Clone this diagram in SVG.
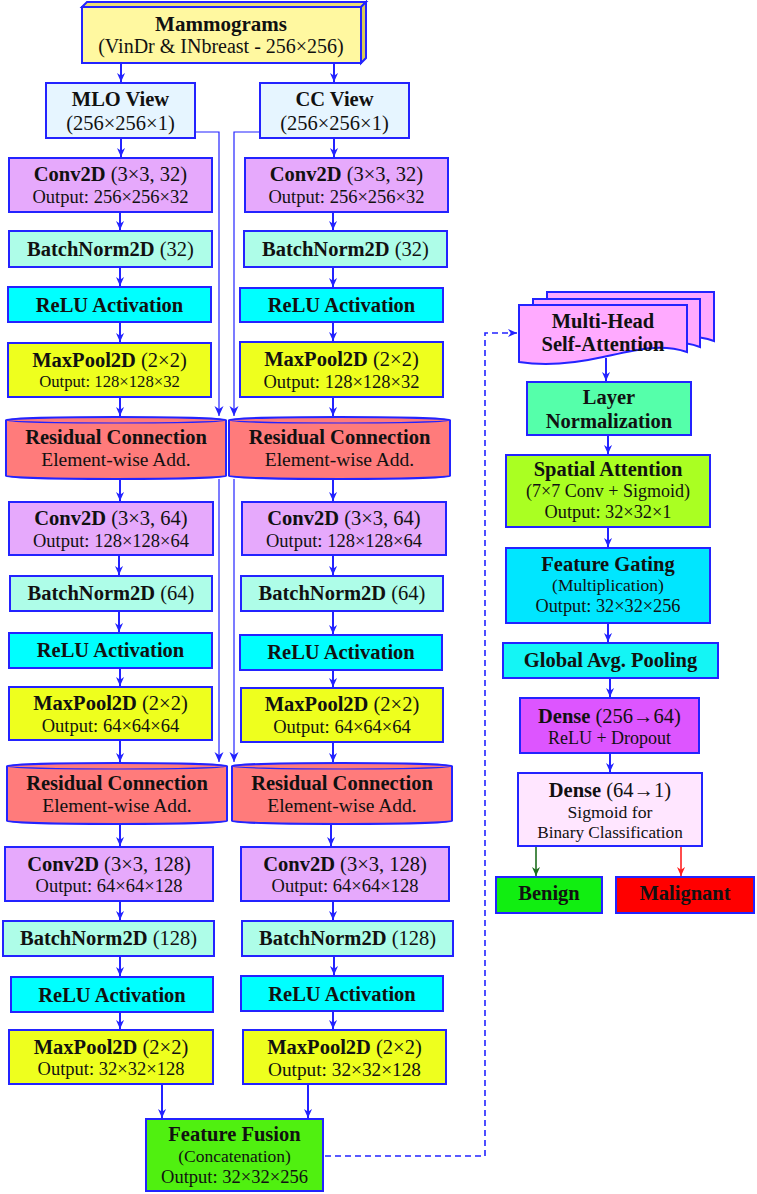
<svg xmlns="http://www.w3.org/2000/svg" width="757" height="1194" viewBox="0 0 757 1194">
<style>
text{font-family:"Liberation Serif","Times New Roman",serif;fill:#111;text-anchor:middle}
.t{font-size:20.5px;font-weight:bold}
.m{font-size:20.5px}
.b{font-weight:bold}
.bx{stroke:#2323ff;stroke-width:2}
.mam{fill:#fff8a0}.view{fill:#e6f5ff}.conv{fill:#e6a9fc}.bn{fill:#aefde8}.relu{fill:#00ffff}.mp{fill:#eeff1e}.res{fill:#ff7b7b}
.fus{fill:#50f010}.mh{fill:#ffaaff}.ln{fill:#55ffaa}.sa{fill:#aaff22}.fg{fill:#00e6ff}.gap{fill:#14f5f5}.d1{fill:#dd55ff}.d2{fill:#ffe6ff}.ben{fill:#11ee11}.mal{fill:#ff0000}
.c{fill:none;stroke:#2323ff;stroke-width:2}
.s{fill:none;stroke:#2323ff;stroke-width:1.2}
.d{fill:none;stroke:#2323ff;stroke-width:1.6;stroke-dasharray:6 4}
</style>
<defs>
<marker id="a" viewBox="0 0 10 10" refX="10" refY="5" markerWidth="9" markerHeight="9" markerUnits="userSpaceOnUse" orient="auto"><path d="M0,0.5 L10,5 L0,9.5 L3,5 z" fill="#2323ff"/></marker>
<marker id="as" viewBox="0 0 10 10" refX="10" refY="5" markerWidth="10" markerHeight="10" markerUnits="userSpaceOnUse" orient="auto"><path d="M0,0.5 L10,5 L0,9.5 L3,5 z" fill="#2323ff"/></marker>
<marker id="ag" viewBox="0 0 10 10" refX="10" refY="5" markerWidth="9" markerHeight="9" markerUnits="userSpaceOnUse" orient="auto"><path d="M0,0.5 L10,5 L0,9.5 L3,5 z" fill="#1e6e1e"/></marker>
<marker id="ar" viewBox="0 0 10 10" refX="10" refY="5" markerWidth="9" markerHeight="9" markerUnits="userSpaceOnUse" orient="auto"><path d="M0,0.5 L10,5 L0,9.5 L3,5 z" fill="#ff2020"/></marker>
</defs>

<g id="connectors">
<path class="c" marker-end="url(#a)" d="M121,63 V82"/>
<path class="c" marker-end="url(#a)" d="M334,63 V82"/>
<path class="c" marker-end="url(#a)" d="M121,138 V157"/>
<path class="c" marker-end="url(#a)" d="M334,138 V157"/>
<path class="c" marker-end="url(#a)" d="M120,212 V230"/>
<path class="c" marker-end="url(#a)" d="M120,267 V286"/>
<path class="c" marker-end="url(#a)" d="M120,322 V342"/>
<path class="c" marker-end="url(#a)" d="M120,397 V416"/>
<path class="c" marker-end="url(#a)" d="M120,479 V501"/>
<path class="c" marker-end="url(#a)" d="M119,555 V575"/>
<path class="c" marker-end="url(#a)" d="M119,611 V632"/>
<path class="c" marker-end="url(#a)" d="M120,668 V686"/>
<path class="c" marker-end="url(#a)" d="M120,740 V762"/>
<path class="c" marker-end="url(#a)" d="M120,824 V846"/>
<path class="c" marker-end="url(#a)" d="M120,901 V920"/>
<path class="c" marker-end="url(#a)" d="M120,956 V976"/>
<path class="c" marker-end="url(#a)" d="M120,1012 V1029"/>
<path class="c" marker-end="url(#a)" d="M333,212 V230"/>
<path class="c" marker-end="url(#a)" d="M333,267 V287"/>
<path class="c" marker-end="url(#a)" d="M333,322 V341"/>
<path class="c" marker-end="url(#a)" d="M333,397 V416"/>
<path class="c" marker-end="url(#a)" d="M333,479 V501"/>
<path class="c" marker-end="url(#a)" d="M333,555 V575"/>
<path class="c" marker-end="url(#a)" d="M333,611 V634"/>
<path class="c" marker-end="url(#a)" d="M333,670 V687"/>
<path class="c" marker-end="url(#a)" d="M333,742 V762"/>
<path class="c" marker-end="url(#a)" d="M331,824 V846"/>
<path class="c" marker-end="url(#a)" d="M333,901 V920"/>
<path class="c" marker-end="url(#a)" d="M334,956 V975"/>
<path class="c" marker-end="url(#a)" d="M333,1011 V1029"/>
<path class="c" marker-end="url(#a)" d="M162,1084 V1118"/>
<path class="c" marker-end="url(#a)" d="M308,1084 V1118"/>
<path class="s" marker-end="url(#as)" d="M195,132 H219 V416"/>
<path class="s" marker-end="url(#as)" d="M260,132 H234 V416"/>
<path class="s" marker-end="url(#as)" d="M219,479 V762"/>
<path class="s" marker-end="url(#as)" d="M234,479 V762"/>
<path class="d" marker-end="url(#a)" d="M325,1156 H485 V333 H517"/>
<path class="c" marker-end="url(#a)" d="M606,358 V381"/>
<path class="c" marker-end="url(#a)" d="M608,435 V454"/>
<path class="c" marker-end="url(#a)" d="M608,527 V547"/>
<path class="c" marker-end="url(#a)" d="M608,623 V642"/>
<path class="c" marker-end="url(#a)" d="M610,678 V697"/>
<path class="c" marker-end="url(#a)" d="M610,753 V772"/>
<path fill="none" stroke="#1e6e1e" stroke-width="1.6" marker-end="url(#ag)" d="M536,846 V876"/>
<path fill="none" stroke="#ff2020" stroke-width="1.6" marker-end="url(#ar)" d="M681,846 V876"/>
</g>

<g id="mammograms">
<path class="bx" fill="#e9dc70" d="M82,7 L87,2 H366 L361,7 Z"/>
<path class="bx" fill="#d9cc55" d="M361,7 L366,2 V58 L361,63 Z"/>
<rect class="bx mam" x="82" y="7" width="279" height="56"/>
<text x="221" y="30.5" class="t" style="font-size:21px">Mammograms</text>
<text x="221" y="53" style="font-size:20px">(VinDr &amp; INbreast - 256×256)</text>
</g>

<g id="mlo-view"><rect class="bx view" x="46" y="83" width="149" height="55"/>
<text x="120.5" y="106" class="t">MLO View</text><text x="120.5" y="129.5" class="m">(256×256×1)</text></g>
<g id="cc-view"><rect class="bx view" x="260" y="83" width="149" height="55"/>
<text x="334.5" y="106" class="t">CC View</text><text x="334.5" y="129.5" class="m">(256×256×1)</text></g>

<g id="conv1-l"><rect class="bx conv" x="9" y="158" width="203" height="54"/>
<text x="110.5" y="181" class="m"><tspan class="b">Conv2D</tspan> (3×3, 32)</text><text x="110.5" y="202.5" style="font-size:18.5px">Output: 256×256×32</text></g>
<g id="conv1-r"><rect class="bx conv" x="245" y="158" width="203" height="54"/>
<text x="346.5" y="181" class="m"><tspan class="b">Conv2D</tspan> (3×3, 32)</text><text x="346.5" y="202.5" style="font-size:18.5px">Output: 256×256×32</text></g>

<g id="bn1-l"><rect class="bx bn" x="9" y="231" width="203" height="36"/>
<text x="110.5" y="256" class="m"><tspan class="b">BatchNorm2D</tspan> (32)</text></g>
<g id="bn1-r"><rect class="bx bn" x="244" y="231" width="203" height="36"/>
<text x="345.5" y="256" class="m"><tspan class="b">BatchNorm2D</tspan> (32)</text></g>

<g id="relu1-l"><rect class="bx relu" x="8" y="287" width="203" height="35"/>
<text x="109.5" y="311.5" class="t">ReLU Activation</text></g>
<g id="relu1-r"><rect class="bx relu" x="240" y="288" width="203" height="34"/>
<text x="341.5" y="312" class="t">ReLU Activation</text></g>

<g id="mp1-l"><rect class="bx mp" x="8" y="343" width="203" height="54"/>
<text x="109.5" y="366.5" class="m"><tspan class="b">MaxPool2D</tspan> (2×2)</text><text x="109.5" y="387" style="font-size:16.7px">Output: 128×128×32</text></g>
<g id="mp1-r"><rect class="bx mp" x="240" y="342" width="203" height="55"/>
<text x="341.5" y="366" class="m"><tspan class="b">MaxPool2D</tspan> (2×2)</text><text x="341.5" y="387.5" style="font-size:18.5px">Output: 128×128×32</text></g>

<g id="res1-l"><path class="bx res" d="M6,420 A110,3 0 0 1 226,420 V476 A110,3 0 0 1 6,476 Z"/><path class="s" d="M6,420 A110,3 0 0 0 226,420"/>
<text x="116" y="443.5" class="t">Residual Connection</text><text x="116" y="466" style="font-size:19.5px">Element-wise Add.</text></g>
<g id="res1-r"><path class="bx res" d="M229,420 A110.5,3 0 0 1 450,420 V476 A110.5,3 0 0 1 229,476 Z"/><path class="s" d="M229,420 A110.5,3 0 0 0 450,420"/>
<text x="339.5" y="443.5" class="t">Residual Connection</text><text x="339.5" y="466" style="font-size:19.5px">Element-wise Add.</text></g>

<g id="conv2-l"><rect class="bx conv" x="9" y="502" width="204" height="53"/>
<text x="111" y="525" class="m"><tspan class="b">Conv2D</tspan> (3×3, 64)</text><text x="111" y="546.5" style="font-size:18.5px">Output: 128×128×64</text></g>
<g id="conv2-r"><rect class="bx conv" x="242" y="502" width="204" height="53"/>
<text x="344" y="525" class="m"><tspan class="b">Conv2D</tspan> (3×3, 64)</text><text x="344" y="546.5" style="font-size:18.5px">Output: 128×128×64</text></g>

<g id="bn2-l"><rect class="bx bn" x="10" y="576" width="202" height="35"/>
<text x="111" y="600" class="m"><tspan class="b">BatchNorm2D</tspan> (64)</text></g>
<g id="bn2-r"><rect class="bx bn" x="241" y="576" width="202" height="35"/>
<text x="342" y="600" class="m"><tspan class="b">BatchNorm2D</tspan> (64)</text></g>

<g id="relu2-l"><rect class="bx relu" x="9" y="633" width="203" height="35"/>
<text x="110.5" y="657" class="t">ReLU Activation</text></g>
<g id="relu2-r"><rect class="bx relu" x="240" y="635" width="202" height="35"/>
<text x="341" y="659" class="t">ReLU Activation</text></g>

<g id="mp2-l"><rect class="bx mp" x="9" y="687" width="203" height="53"/>
<text x="110.5" y="710" class="m"><tspan class="b">MaxPool2D</tspan> (2×2)</text><text x="110.5" y="731.5" style="font-size:18.5px">Output: 64×64×64</text></g>
<g id="mp2-r"><rect class="bx mp" x="241" y="688" width="202" height="54"/>
<text x="342" y="711" class="m"><tspan class="b">MaxPool2D</tspan> (2×2)</text><text x="342" y="732.5" style="font-size:18.5px">Output: 64×64×64</text></g>

<g id="res2-l"><path class="bx res" d="M7,766 A110,3 0 0 1 227,766 V821 A110,3 0 0 1 7,821 Z"/><path class="s" d="M7,766 A110,3 0 0 0 227,766"/>
<text x="117" y="789.5" class="t">Residual Connection</text><text x="117" y="812" style="font-size:19.5px">Element-wise Add.</text></g>
<g id="res2-r"><path class="bx res" d="M232,766 A110,3 0 0 1 452,766 V821 A110,3 0 0 1 232,821 Z"/><path class="s" d="M232,766 A110,3 0 0 0 452,766"/>
<text x="342" y="789.5" class="t">Residual Connection</text><text x="342" y="812" style="font-size:19.5px">Element-wise Add.</text></g>

<g id="conv3-l"><rect class="bx conv" x="5" y="847" width="208" height="54"/>
<text x="109" y="870.5" class="m"><tspan class="b">Conv2D</tspan> (3×3, 128)</text><text x="109" y="892" style="font-size:18.5px">Output: 64×64×128</text></g>
<g id="conv3-r"><rect class="bx conv" x="241" y="847" width="208" height="54"/>
<text x="345" y="870.5" class="m"><tspan class="b">Conv2D</tspan> (3×3, 128)</text><text x="345" y="892" style="font-size:18.5px">Output: 64×64×128</text></g>

<g id="bn3-l"><rect class="bx bn" x="3" y="921" width="211" height="35"/>
<text x="108.5" y="945" class="m"><tspan class="b">BatchNorm2D</tspan> (128)</text></g>
<g id="bn3-r"><rect class="bx bn" x="242" y="921" width="211" height="35"/>
<text x="347.5" y="945" class="m"><tspan class="b">BatchNorm2D</tspan> (128)</text></g>

<g id="relu3-l"><rect class="bx relu" x="11" y="977" width="202" height="35"/>
<text x="112" y="1001.5" class="t">ReLU Activation</text></g>
<g id="relu3-r"><rect class="bx relu" x="241" y="976" width="202" height="35"/>
<text x="342" y="1000.5" class="t">ReLU Activation</text></g>

<g id="mp3-l"><rect class="bx mp" x="9" y="1030" width="204" height="54"/>
<text x="111" y="1053.5" class="m"><tspan class="b">MaxPool2D</tspan> (2×2)</text><text x="111" y="1075" style="font-size:18.5px">Output: 32×32×128</text></g>
<g id="mp3-r"><rect class="bx mp" x="243" y="1030" width="203" height="54"/>
<text x="344.5" y="1053.5" class="m"><tspan class="b">MaxPool2D</tspan> (2×2)</text><text x="344.5" y="1075.5" style="font-size:19.3px">Output: 32×32×128</text></g>

<g id="feature-fusion"><rect class="bx fus" x="146" y="1119" width="177" height="72"/>
<text x="234.5" y="1141" class="t">Feature Fusion</text><text x="234.5" y="1161.5" style="font-size:17.5px">(Concatenation)</text><text x="234.5" y="1182.5" style="font-size:18.5px">Output: 32×32×256</text></g>

<g id="multi-head">
<path class="bx mh" d="M547,292 H714 V341 C695,334 680,336 668,339 L547,339 Z"/>
<path class="bx mh" d="M533,299 H700 V347 C680,340 665,342 650,346 L533,346 Z"/>
<path class="bx mh" d="M519,305 H687 V352 C660,343 635,350 603,357 C572,364 545,366 519,362 Z"/>
<text x="603" y="327.5" class="t">Multi-Head</text><text x="603" y="351" class="t">Self-Attention</text></g>

<g id="layer-norm"><rect class="bx ln" x="527" y="382" width="164" height="53"/>
<text x="609" y="404" class="t">Layer</text><text x="609" y="427.5" class="t">Normalization</text></g>

<g id="spatial-attention"><rect class="bx sa" x="506" y="455" width="204" height="72"/>
<text x="608" y="476" class="t">Spatial Attention</text><text x="608" y="497" style="font-size:18px">(7×7 Conv + Sigmoid)</text><text x="608" y="518" style="font-size:18.3px">Output: 32×32×1</text></g>

<g id="feature-gating"><rect class="bx fg" x="506" y="548" width="204" height="75"/>
<text x="608" y="570.5" class="t">Feature Gating</text><text x="608" y="591" style="font-size:17.5px">(Multiplication)</text><text x="608" y="612" style="font-size:18.3px">Output: 32×32×256</text></g>

<g id="global-avg-pooling"><rect class="bx gap" x="503" y="643" width="215" height="35"/>
<text x="610.5" y="667" class="t">Global Avg. Pooling</text></g>

<g id="dense1"><rect class="bx d1" x="520" y="698" width="179" height="55"/>
<text x="609.5" y="722.5" class="m"><tspan class="b">Dense</tspan> (256→64)</text><text x="609.5" y="744" style="font-size:18px">ReLU + Dropout</text></g>

<g id="dense2"><rect class="bx d2" x="518" y="773" width="184" height="73"/>
<text x="610" y="796.5" class="m"><tspan class="b">Dense</tspan> (64→1)</text><text x="610" y="817.5" style="font-size:17.7px">Sigmoid for</text><text x="610" y="838" style="font-size:17.2px">Binary Classification</text></g>

<g id="benign"><rect class="bx ben" x="496" y="877" width="106" height="36"/>
<text x="549" y="900" class="t">Benign</text></g>
<g id="malignant"><rect class="bx mal" x="616" y="877" width="138" height="36"/>
<text x="685" y="900" class="t">Malignant</text></g>
</svg>
